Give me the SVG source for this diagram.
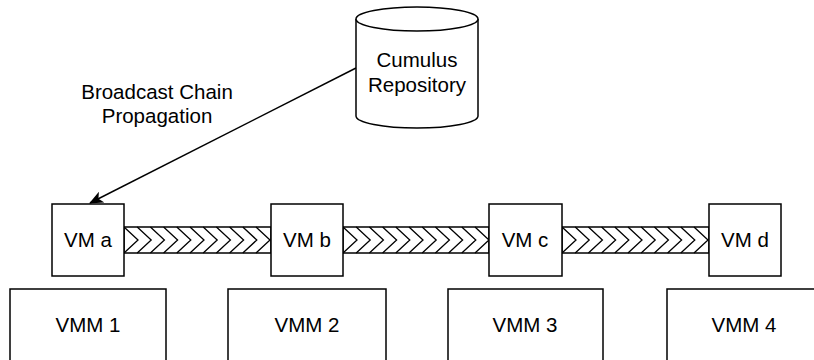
<svg xmlns="http://www.w3.org/2000/svg" width="814" height="360" viewBox="0 0 814 360">
<style>
.box{fill:#fff;stroke:#000;stroke-width:1.5}
.t{font-family:"Liberation Sans",Arial,sans-serif;font-size:20.5px;fill:#000;text-anchor:middle}
.band{fill:#fff;stroke:#000;stroke-width:1.5}
.chev{fill:none;stroke:#000;stroke-width:1.3}
.edge{fill:none;stroke:#000;stroke-width:1.5}
</style>
<defs>
<marker id="ah" viewBox="0 0 14 12" refX="13" refY="6" markerWidth="14" markerHeight="12" markerUnits="userSpaceOnUse" orient="auto">
<path d="M0,0 L14,6 L0,12 L3.5,6 Z" fill="#000"/>
</marker>
<path id="chevs" class="chev" d="M0,0 L14,13 L0,26 M13.2,0 L27.2,13 L13.2,26 M26.4,0 L40.4,13 L26.4,26 M39.6,0 L53.6,13 L39.6,26 M52.8,0 L66.8,13 L52.8,26 M66,0 L80,13 L66,26 M79.2,0 L93.2,13 L79.2,26 M92.4,0 L106.4,13 L92.4,26 M105.6,0 L119.6,13 L105.6,26 M118.8,0 L132.8,13 L118.8,26 M132,0 L146,13 L132,26"/>
</defs>
<g id="connectors">
<g id="link-ab">
<rect class="band" x="124" y="227" width="147" height="26"/>
<use href="#chevs" x="124" y="227"/>
</g>
<g id="link-bc">
<rect class="band" x="343" y="227" width="146" height="26"/>
<use href="#chevs" x="343" y="227"/>
</g>
<g id="link-cd">
<rect class="band" x="562" y="227" width="147" height="26"/>
<use href="#chevs" x="562" y="227"/>
</g>
<path id="broadcast" class="edge" d="M356,68 L90,203" marker-end="url(#ah)"/>
</g>
<g id="label-broadcast">
<text class="t" x="157" y="99">Broadcast Chain</text>
<text class="t" x="157" y="123">Propagation</text>
</g>
<g id="repository">
<path class="box" d="M356,19 A61,12 0 0 1 478,19 L478,116 A61,12 0 0 1 356,116 Z"/>
<path class="box" d="M356,19 A61,12 0 0 0 478,19" fill="none"/>
<text class="t" x="417" y="67">Cumulus</text>
<text class="t" x="417" y="92">Repository</text>
</g>
<g id="vm-a"><rect class="box" x="52" y="204" width="72" height="72"/><text class="t" x="88" y="247">VM a</text></g>
<g id="vm-b"><rect class="box" x="271" y="204" width="72" height="72"/><text class="t" x="307" y="247">VM b</text></g>
<g id="vm-c"><rect class="box" x="489" y="204" width="73" height="72"/><text class="t" x="525" y="247">VM c</text></g>
<g id="vm-d"><rect class="box" x="709" y="204" width="72" height="72"/><text class="t" x="745" y="247">VM d</text></g>
<g id="vmm-1"><rect class="box" x="10" y="289" width="156" height="80"/><text class="t" x="88" y="332">VMM 1</text></g>
<g id="vmm-2"><rect class="box" x="228" y="289" width="158" height="80"/><text class="t" x="307" y="332">VMM 2</text></g>
<g id="vmm-3"><rect class="box" x="448" y="289" width="155" height="80"/><text class="t" x="525" y="332">VMM 3</text></g>
<g id="vmm-4"><rect class="box" x="667" y="289" width="155" height="80"/><text class="t" x="744" y="332">VMM 4</text></g>
</svg>
